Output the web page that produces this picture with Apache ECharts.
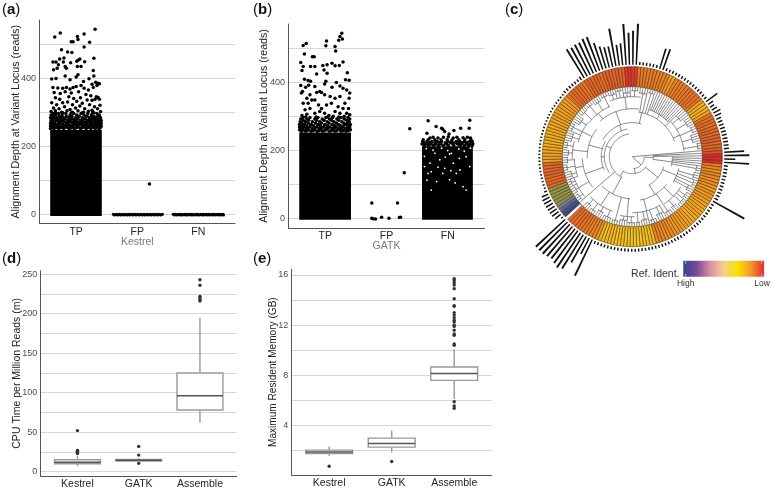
<!DOCTYPE html>
<html><head><meta charset="utf-8">
<style>html,body{margin:0;padding:0;background:#fff}#c{width:772px;height:490px}</style>
<script src="https://cdn.jsdelivr.net/npm/echarts@6/dist/echarts.min.js"></script>
</head><body><div id="c"></div>
<script>
// ---------- shared categories ----------
const callCats = ['TP', 'FP', 'FN'];
const toolCats = ['Kestrel', 'GATK', 'Assemble'];
const catPos = [100, 200, 300];

// ---------- panel (a) Kestrel ----------
const aSolid = [[57.5, 142, -4, 248]];
const aTPRows = [
[298,[66,78,92,110,127]],[296,[62,71,83,96,108,119,134]],[292,[59,66,77,90,101,113,125,138]],[288,[61,72,84,93,105,118,129,136]],
[284,[58,68,79,88,99,110,122,131,140]],[280,[63,74,82,94,103,115,127,135]],[276,[59,67,76,86,97,107,118,124,133,141]],
[272,[62,71,80,91,100,112,120,129,138]],[268,[58,65,75,84,94,104,109,117,126,135,141]],[264,[61,69,78,88,98,106,114,123,131,139]],
[260,[58,66,73,82,91,101,110,119,128,136,141]],[256,[60,68,76,85,94,103,112,121,127,134,140]],[252,[58,64,72,80,89,97,107,116,124,132,138]],
[270,[64,73,87,96,102,115,122,133]],[262,[63,70,80,86,96,104,116,125,133]],[254,[62,70,78,87,92,100,109,118,130,136]],[286,[64,75,91,102,116,126,134]],[278,[61,71,79,90,100,110,121,130,138]]];
const aTPSparse = [[65,520],[74,532],[131,543],[113,529],[102,522],[103,513],[92,506],[95,506],[122,505],[113,491],[76,483],[86,476],[93,475],[129,458],[62,447],[67,447],[73,456],[80,459],[79,447],[71,439],[69,429],[63,424],[84,429],[82,434],[101,449],[106,456],[103,452],[114,448],[91,445],[108,434],[102,434],[128,422],[129,406],[103,410],[100,403],[82,406],[60,397],[67,399],[90,395],[112,390],[121,398],[132,388],[136,385],[126,382],
[62,372],[70,371],[78,370],[84,372],[90,368],[95,372],[100,375],[108,378],[113,370],[120,365],[128,372],[134,378],[138,383],[64,358],[74,355],[82,360],[92,356],[104,360],[116,352],[124,348],[133,345],[138,338],[131,338],[136,343],[126,335],[66,342],[73,338],[88,345],[96,340],[107,342],[118,336],[60,328],[68,322],[78,328],[86,330],[94,322],[101,332],[110,326],[122,322],[130,316],[139,320],[63,312],[72,310],[81,316],[90,308],[99,312],[106,318],[114,310],[126,306],[135,310],[59,302],[66,304],[76,300],[85,304],[94,300],[103,304],[112,300],[120,303],[129,298],[140,302],[220,90]];
const aLowRows = [
[1,[161,166,171,176,181,186,191,196,201,206,211,216,221,226,231,236,241]],
[-1,[163,168,173,178,183,188,193,198,203,208,213,218,223,228,233,238]],
[1,[259,263,268,272,277,281,286,290,295,299,304,308,313,317,322,326,331,335,340]],
[-1,[261,265,270,274,279,283,288,292,297,301,306,310,315,319,324,328,333,337,341]]];

// ---------- panel (b) GATK ----------
const bSolid = [[57.5, 142, -4, 252], [258, 341, -4, 212]];
const bDenseRows = [
[298,[68,85,104,122]],[296,[63,75,88,101,112,126,137]],[292,[60,70,83,95,107,119,131,140]],[288,[64,73,86,98,110,122,135]],
[284,[59,68,79,91,103,114,127,139]],[280,[62,72,84,94,106,118,130,136]],[276,[58,66,77,88,99,111,121,133,141]],
[272,[61,70,81,92,104,115,125,137]],[268,[58,65,75,86,97,108,118,128,140]],[264,[60,69,79,90,101,112,122,132,139]],
[260,[58,64,73,83,93,103,113,124,135,141]],[256,[61,68,77,87,96,107,116,126,134]],
[274,[65,76,90,101,113,123,131]],[266,[63,72,83,94,105,116,126,136]],[258,[62,70,80,90,99,110,119,129,138]],
[231,[260,268,279,289,299,307,318,328,338]],
[226,[259,266,274,283,290,300,306,314,320,327,335,340]],[222,[261,270,279,287,296,304,311,318,324,331,338]],
[218,[258,265,273,281,289,298,308,316,322,330,336,341]],[214,[262,269,277,285,293,301,310,320,327,334,340]]];
const bSparse = [[127,544],[124,534],[128,527],[122,523],[102,521],[64,508],[69,514],[101,507],[116,505],[117,492],[66,483],[79,475],[82,475],[60,458],[64,446],[62,434],[76,446],[83,446],[96,449],[103,451],[111,456],[129,459],[123,449],[116,448],[98,436],[103,426],[86,424],[136,428],[66,409],[72,405],[76,403],[101,403],[118,399],[133,407],[139,406],[60,390],[68,385],[73,391],[83,387],[99,395],[111,385],[124,389],[129,382],[135,377],[140,368],[63,373],[61,368],[91,373],[94,370],[86,370],[75,363],[70,353],[78,348],[64,338],[72,338],[83,348],[99,363],[108,358],[116,353],[124,358],[132,338],[139,353],[89,333],[94,323],[102,333],[110,338],[121,328],[129,323],[138,323],[67,319],[75,323],[83,309],[91,314],[99,309],[116,314],[124,309],[135,309],[140,304],[70,306],[62,302],[106,302],[113,300],[131,300],
[176,0],[178,-1],[182,-2],[192,3],[204,0],[221,2],[223,3],[176,45],[218,45],[229,134],[238,263],
[268,287],[336,288],[281,270],[290,265],[292,262],[295,255],[302,248],[301,240],[310,258],[321,265],[335,265],[266,250],[271,236],[276,238],[284,236],[293,238],[309,236],[315,238],[332,238],[337,236],[325,237]];
const bGaps = [[306,191],[303,189],[268,132],[273,137],[295,147],[314,132],[271,162],[287,172],[309,162],[330,181],[279,191],[325,93],[330,83],[262,152],[282,108],[303,113],[292,132],[320,142],[336,152],[273,83],[265,205],[276,200],[290,206],[300,199],[318,204],[327,197],[337,206],[262,182],[296,180],[319,176],[284,150],[305,140],[266,112],[312,104]];

// ---------- panel (d) CPU time: x, low, q1, median, q3, high ----------
const dBoxes = [[100,7,10,12,15,20],[200,13,13.5,14.5,15.5,17],[300,62,78,96,125,195]];
const dOutliers = [[100,52],[100,27],[100,26],[100,25],[100,24],[100,23],[200,32],[200,21],[200,10.5],[300,243],[300,236],[300,222],[300,220],[300,218],[300,216]];

// ---------- panel (e) memory ----------
const eBoxes = [[100,1.6,1.77,1.9,2.04,2.33],[200,1.85,2.28,2.57,3.0,3.6],[300,6.12,7.6,8.14,8.67,10.08]];
const eOutliers = [[100,0.76],[200,1.13],[300,5.9],[300,5.57],[300,5.38],[300,10.5],[300,10.4],[300,11.3],[300,11.2],[300,11.6],[300,11.9],[300,12.0],[300,12.25],[300,12.4],[300,12.6],[300,12.8],[300,13],[300,13.55],[300,13.5],[300,14.1],[300,14.9],[300,15.2],[300,15.4],[300,15.6],[300,15.7]];

// ---------- panel (c) circular tree: ring scores (clockwise from the gap) ----------
const ringIdent = [0,.02,.06,.1,.17,.18,.18,.18,.19,.18,
.83,.84,.82,.83,.85,.83,.82,.84,
.62,.6,.58,.58,.56,.57,.55,.56,.58,.56,.57,.58,.6,.58,.6,.62,.6,.62,.62,.64,.63,.65,
.8,.82,.84,.82,.83,.8,.76,.84,.85,.83,.84,.82,.8,.85,.86,.84,.82,.84,.83,.85,
.97,.98,.96,.96,.76,
.75,.74,.72,.74,.76,.72,.74,.72,.74,.64,.62,.72,.74,.76,.74,.76,.78,
.78,.8,.78,.79,.62,
.55,.54,.56,.6,
.78,.8,.82,.8,.82,.84,.82,.84,.86,.85,.84,
.88,.9,1,1,1,.74,
.7,.68,.72,.7,.66,.68,.66,.64,.66,.62,.64,.6,.62,
.6,.58,.6,.62,.6,.58,.6,.62,.64,.62,.66,.64,.66,.68,.7,.68,.7,.72,.7,
.5,.48,.46,.5,.48,.45,.44,.46,.48,.46,.5,.48,.46,.5,.52,.5,.48,.52,
.66,.7,.72,.74,.76,.78,.8,.82,.8,.82,.82,null];
const outerBars = [2,7,8,8,8,8,8,8,7,3,
2,2,2,2,2,2,2,2,
2,2,2,2,2,2,2,2,2,2,2,2,2,2,2,2,2,2,2,2,2,2,
3,3,3,3,3,3,4,34,33,34,34,36,36,28,23,21,21,38,21,22,
41,32,34,41,3,
3,3,3,3,3,21,22,3,3,3,3,3,3,3,3,3,3,
3,3,3,3,3,
14,6,5,6,8,
7,5,5,5,5,5,5,5,5,5,5,
20,25,11,25,4,4,
4,4,4,4,4,4,4,4,4,36,3,3,3,
3,3,3,3,3,3,3,3,3,3,3,3,3,3,3,3,3,3,3,
3,3,3,3,3,3,3,3,3,3,3,3,3,3,3,3,3,3,
40,18,30,40,42,40,38,39,40,40,40,0];
// clades: radius of the joining arc, arc start, arc end (clock degrees), optional stem angle
const clades = [[12,92,175],[21,86,98],[40,91,104],[17,125,215],[33,108,150],[48,104,122],[44,128,170],[57,122,146],[56,150,180],
[23,205,352,212],[28,235,350],[42,183,226,208],[60,178,192],[58,200,226],[34,300,375],[45,368,430,372],[50,20,46],[52,47,84],
[48,318,368,340],[60,338,368],[55,308,336],[31,245,300,270],[50,232,268],[45,268,308,285],[62,230,250],[58,250,268],[60,268,285],[56,285,308]];
const smallClades = [[65,98,103],[64,104,110],[66,111,116],[63,117,122],[65,123,129],[66,130,136],[64,137,143],[65,144,150],[63,151,158],[66,159,165],[64,166,172],[66,173,177],[66,178,184],[64,185,191],[66,192,198],[65,199,206],[63,207,213],[66,214,219],[64,220,225],[66,230,236],[65,237,243],[66,244,250],[63,251,257],[66,258,263],[65,264,270],[64,271,276],[66,277,283],[63,284,292],[66,293,300],[62,301,308],[65,309,316],[66,317,323],[64,324,331],[66,332,338],[65,339,345],[67,346,351],[64,352,358],[66,359,365],[64,6,13],[66,14,19],[60,47,54],[63,55,62],[65,63,69],[62,70,77],[66,78,84]];
const legendStops = ['#2f4491','#7a4b94','#d98fa5','#f6cf8e','#f8e300','#f59a26','#e62a35'];
const ringStops = [[0,'#33478f'],[.1,'#76809a'],[.18,'#8f9748'],[.45,'#f6c914'],[.6,'#f2a51e'],[.75,'#ea7a22'],[.88,'#e4592a'],[1,'#e3262b']];

// ---------- helpers ----------
const hex = s => [1,3,5].map(i => parseInt(s.slice(i,i+2),16));
function ringColor(v){
  for (let i=1;i<ringStops.length;i++){
    if (v<=ringStops[i][0]){
      const [a,ca]=ringStops[i-1],[b,cb]=ringStops[i],t=(v-a)/(b-a),x=hex(ca),y=hex(cb);
      return `rgb(${x.map((c,k)=>Math.round(c+(y[k]-c)*t)).join(',')})`;
    }
  }
  return ringStops[ringStops.length-1][1];
}
const flat = rows => rows.flatMap(([y,xs]) => xs.map(x => [x,y]));
const grids=[], xAxes=[], yAxes=[], series=[];
function panel(g, yMin, yMax, yLines, yLabels, yName, xNames, xTitle, ySize){
  const i=grids.length;
  grids.push({left:g[0],top:g[1],width:g[2],height:g[3],containLabel:false});
  xAxes.push({gridIndex:i,type:'value',min:40,max:360,splitLine:{show:false},
    name:xTitle||'',nameLocation:'middle',nameGap:13,nameMoveOverlap:false,nameTextStyle:{color:'#7a7a7a',fontSize:10.5,fontFamily:'Liberation Sans'},
    axisLine:{onZero:false,lineStyle:{color:'#555',width:1}},axisTick:{show:false,customValues:catPos},
    axisLabel:{customValues:catPos,margin:3,color:'#262626',fontSize:10.5,fontFamily:'Liberation Sans',formatter:v=>xNames[catPos.indexOf(v)]||''}});
  yAxes.push({gridIndex:i,type:'value',min:yMin,max:yMax,name:yName,nameLocation:'middle',nameGap:ySize.gap,nameMoveOverlap:false,
    nameTextStyle:{color:'#222',fontSize:ySize.size,fontFamily:'Liberation Sans'},
    axisLine:{show:true,onZero:false,lineStyle:{color:'#555',width:1}},axisTick:{show:false,customValues:yLines},
    axisLabel:{customValues:yLabels,margin:3.5,color:'#4d4d4d',fontSize:9,fontFamily:'Liberation Sans'},
    splitLine:{show:true,lineStyle:{color:'#d6d6d6',width:1}}});
  return i;
}
function solid(i,rows){
  series.push({type:'custom',xAxisIndex:i,yAxisIndex:i,silent:true,data:rows,clip:false,animation:false,
    renderItem:(p,api)=>{
      const a=api.coord([api.value(0),api.value(3)]),b=api.coord([api.value(1),api.value(2)]);
      return {type:'rect',shape:{x:a[0],y:a[1],width:b[0]-a[0],height:b[1]-a[1]},style:{fill:'#000'}};
    }});
}
function dots(i,data,color,size){
  series.push({type:'scatter',xAxisIndex:i,yAxisIndex:i,data,symbolSize:size,silent:true,animation:false,itemStyle:{color,opacity:1}});
}
function boxes(i,rows){
  series.push({type:'custom',xAxisIndex:i,yAxisIndex:i,silent:true,data:rows,animation:false,
    renderItem:(p,api)=>{
      const x=api.value(0),v=k=>api.value(k),hw=37.5;
      const c=(a,b)=>api.coord([a,b]);
      const lo=c(x,v(1)),q1=c(x,v(2)),q3=c(x,v(4)),hi=c(x,v(5));
      const l=c(x-hw,v(3)),r=c(x+hw,v(3));
      const gs={stroke:'#999',lineWidth:1.4,fill:null};
      return {type:'group',children:[
        {type:'line',shape:{x1:lo[0],y1:lo[1],x2:q1[0],y2:q1[1]},style:gs},
        {type:'line',shape:{x1:hi[0],y1:hi[1],x2:q3[0],y2:q3[1]},style:gs},
        {type:'rect',shape:{x:l[0],y:q3[1],width:r[0]-l[0],height:q1[1]-q3[1]},style:{stroke:'#999',lineWidth:1.4,fill:'#fff'}},
        {type:'line',shape:{x1:l[0],y1:l[1],x2:r[0],y2:r[1]},style:{stroke:'#555',lineWidth:1.5}}
      ]};
    }});
}

// ---------- cartesian panels ----------
const A=panel([39.5,20,195.5,203.5],-26,570,[0,100,200,300,400,500],[0,200,400],'Alignment Depth at Variant Locus (reads)',callCats,'Kestrel',{gap:18,size:10.6});
solid(A,aSolid); dots(A,flat(aTPRows),'#000',3.5); dots(A,aTPSparse,'#000',3.5); dots(A,flat(aLowRows),'#000',3.2);
const B=panel([288.5,24,196,204],-28.5,571,[0,100,200,300,400,500],[0,200,400],'Alignment Depth at Variant Locus (reads)',callCats,'GATK',{gap:19,size:10.6});
solid(B,bSolid); dots(B,flat(bDenseRows),'#000',3.5); dots(B,bSparse,'#000',3.5); dots(B,bGaps,'#fff',1.8);
const D=panel([40.7,270.7,196,207],-5.5,254.5,[0,25,50,75,100,125,150,175,200,225,250],[0,50,100,150,200,250],'CPU Time per Million Reads (m)',toolCats,'',{gap:18,size:10.5});
boxes(D,dBoxes); dots(D,dOutliers,'#333',3.4);
const E=panel([291.7,269.3,200,205.7],0.06,16.45,[2,4,6,8,10,12,14,16],[4,8,12,16],'Maximum Resident Memory (GB)',toolCats,'',{gap:13.5,size:10.1});
boxes(E,eBoxes); dots(E,eOutliers,'#333',3.4);

// ---------- circular panel ----------
const cx=632.3, cy=156.7, N=ringIdent.length, startClock=228;
const polarBase={center:[cx,cy]};
const hiddenAngle=idx=>({polarIndex:idx,type:'category',data:ringIdent.map((_,i)=>i),startAngle:90-startClock,boundaryGap:true,clockwise:true,show:false});
series.push({type:'bar',coordinateSystem:'polar',polarIndex:0,silent:true,animation:false,barCategoryGap:'0%',
  data:ringIdent.map(v=>v==null?0:1),
  itemStyle:{color:p=>ringIdent[p.dataIndex]==null?'#fff':ringColor(ringIdent[p.dataIndex]),borderColor:'#4a2f12',borderWidth:.55}});
series.push({type:'bar',coordinateSystem:'polar',polarIndex:1,silent:true,animation:false,barWidth:'42%',
  data:outerBars,itemStyle:{color:'#111'}});
// tree rows: arc radius, arc start, arc end, stem angle
const cladeRows=[...clades,...smallClades].map(c=>[c[0],c[1],c[2],c[3]!==undefined?c[3]:(c[1]+c[2])/2]);
const covers=(row,a)=>{const d=((a-row[1])%360+360)%360;return d<=row[2]-row[1]+1e-6;};
const parentR=(a,below)=>{let r=0;for(const c of cladeRows){if(c[0]<below&&c[0]>r&&covers(c,a))r=c[0];}return r;};
const treeRows=cladeRows.map(c=>[c[0],c[1],c[2],c[3],parentR(c[3],c[0])]);
ringIdent.forEach((v,i)=>{
  if(v==null)return;
  const a=(startClock+(i+.5)*360/N)%360;
  treeRows.push([70,a,a,a,parentR(a,70)]);
});
series.push({type:'custom',coordinateSystem:'polar',polarIndex:2,silent:true,animation:false,clip:false,data:treeRows,
  encode:{radius:0,angle:1},
  renderItem:(p,api)=>{
    const r=api.value(0),a1=api.value(1),a2=api.value(2),sa=api.value(3),from=api.value(4);
    const pt=(rr,a)=>api.coord([rr,((a%360)+360)%360]);
    const pts=[];
    for(let a=a1;a<a2;a+=1.5)pts.push(pt(r,a));
    pts.push(pt(r,a2));
    const st={stroke:'#3a3a3a',lineWidth:.6,fill:null};
    const kids=[{type:'line',shape:{x1:pt(from,sa)[0],y1:pt(from,sa)[1],x2:pt(r,sa)[0],y2:pt(r,sa)[1]},style:st}];
    if(a2>a1)kids.push({type:'polyline',shape:{points:pts},style:st});
    return {type:'group',children:kids};
  }});

const label=(l,x,y)=>({type:'text',x,y,silent:true,style:{
  text:`{r|(}{b|${l}}{r|)}`,
  rich:{r:{fontSize:15,fontFamily:'Liberation Sans',fill:'#111'},b:{fontSize:15,fontWeight:'bold',fontFamily:'Liberation Sans',fill:'#111'}}}});
const legendGrad=legendStops.map((c,i)=>({offset:i/(legendStops.length-1),color:c}));
const txt=(t,x,y,size,align)=>({type:'text',x,y,silent:true,style:{text:t,fontSize:size,fontFamily:'Liberation Sans',fill:'#333',textAlign:align,textVerticalAlign:'middle'}});

const chart=echarts.init(document.getElementById('c'),null,{renderer:'canvas'});
chart.setOption({
  animation:false,backgroundColor:'#fff',
  grid:grids,xAxis:xAxes,yAxis:yAxes,
  polar:[{...polarBase,radius:[70,90]},{...polarBase,radius:[92,135]},{...polarBase,radius:[0,70]}],
  angleAxis:[hiddenAngle(0),hiddenAngle(1),{polarIndex:2,type:'value',min:0,max:360,startAngle:90,clockwise:true,show:false}],
  radiusAxis:[{polarIndex:0,min:0,max:1,show:false},{polarIndex:1,min:0,max:43,show:false},{polarIndex:2,min:0,max:70,show:false}],
  series,
  graphic:[label('a',2,2),label('b',253,2),label('c',505,2),label('d',2,251),label('e',253,251),
    {type:'rect',silent:true,shape:{x:683.3,y:260.7,width:80.7,height:16},style:{fill:new echarts.graphic.LinearGradient(0,0,1,0,legendGrad)}},
    {type:'rect',silent:true,shape:{x:685.5,y:260.7,width:.6,height:3},style:{fill:'#fff'}},
    {type:'rect',silent:true,shape:{x:685.5,y:273.7,width:.6,height:3},style:{fill:'#fff'}},
    {type:'rect',silent:true,shape:{x:761.5,y:260.7,width:.6,height:3},style:{fill:'#fff'}},
    {type:'rect',silent:true,shape:{x:761.5,y:273.7,width:.6,height:3},style:{fill:'#fff'}},
    txt('Ref. Ident.',679.5,274,10.5,'right'),txt('High',685.7,284,8.5,'center'),txt('Low',762,284,8.5,'center')]
});
</script></body></html>
